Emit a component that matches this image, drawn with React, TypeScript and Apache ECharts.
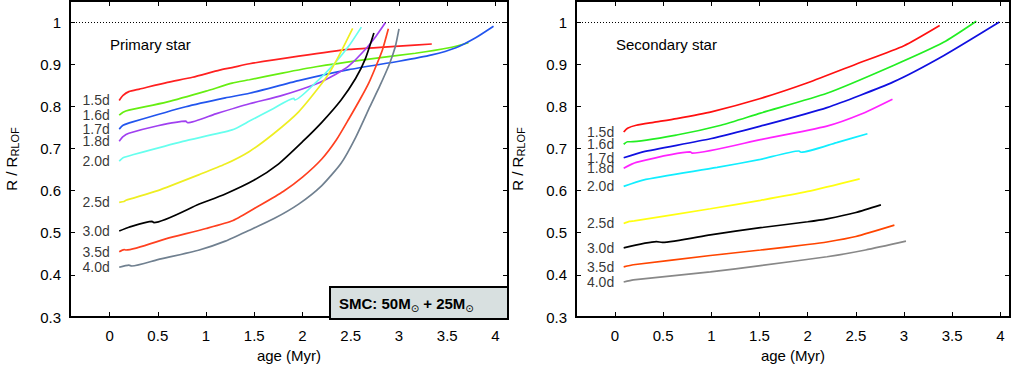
import React, { useEffect, useRef } from "react";
import * as echarts from "echarts";

// ---------- data ----------
const periods = ["1.5d", "1.6d", "1.7d", "1.8d", "2.0d", "2.5d", "3.0d", "3.5d", "4.0d"];

const xTicks = [0, 0.5, 1, 1.5, 2, 2.5, 3, 3.5, 4];
const yTicks = [0.3, 0.4, 0.5, 0.6, 0.7, 0.8, 0.9, 1];

const primaryColors = ["#ff2020", "#66ee11", "#2255ee", "#a040f0", "#66ffee", "#eeee22", "#000000", "#ff4020", "#708090"];
const secondaryColors = ["#ff1010", "#22ee22", "#1010e0", "#ff22ff", "#11eeff", "#ffff11", "#000000", "#ff4500", "#888888"];

// Primary star: [age (Myr), R/R_RLOF]
const p15 = [[0.10, 0.814], [0.14, 0.826], [0.2, 0.835], [0.31, 0.841], [0.6, 0.857], [0.86, 0.869], [1.14, 0.886], [1.27, 0.892], [1.45, 0.901], [1.96, 0.919], [2.48, 0.935], [3.0, 0.943], [3.34, 0.948]];
const p16 = [[0.10, 0.779], [0.14, 0.786], [0.2, 0.791], [0.59, 0.81], [1.0, 0.836], [1.27, 0.855], [1.45, 0.863], [1.79, 0.879], [2.14, 0.894], [2.65, 0.911], [3.17, 0.926], [3.52, 0.939], [3.72, 0.951]];
const p17 = [[0.10, 0.746], [0.14, 0.755], [0.24, 0.763], [0.79, 0.799], [1.2, 0.82], [1.45, 0.831], [1.96, 0.861], [2.48, 0.887], [3.0, 0.907], [3.34, 0.922], [3.59, 0.939], [3.79, 0.962], [3.98, 0.99]];
const p18 = [[0.10, 0.717], [0.14, 0.728], [0.2, 0.736], [0.5, 0.754], [0.79, 0.765], [0.81, 0.761], [1.1, 0.782], [1.45, 0.806], [1.79, 0.826], [2.14, 0.853], [2.35, 0.877], [2.48, 0.896], [2.65, 0.935], [2.76, 0.966], [2.86, 0.999]];
const p20 = [[0.10, 0.670], [0.14, 0.678], [0.24, 0.685], [0.76, 0.717], [1.27, 0.744], [1.45, 0.765], [1.7, 0.795], [1.91, 0.819], [1.92, 0.815], [2.14, 0.857], [2.31, 0.896], [2.48, 0.943], [2.61, 0.988]];
const p25 = [[0.10, 0.572], [0.15, 0.574], [0.17, 0.577], [0.5, 0.6], [0.93, 0.638], [1.2, 0.663], [1.45, 0.693], [1.7, 0.735], [1.96, 0.787], [2.21, 0.857], [2.3, 0.888], [2.4, 0.93], [2.52, 0.985]];
const p30 = [[0.10, 0.504], [0.2, 0.513], [0.44, 0.527], [0.46, 0.524], [0.93, 0.568], [1.2, 0.592], [1.5, 0.625], [1.75, 0.663], [2.0, 0.716], [2.2, 0.762], [2.4, 0.815], [2.55, 0.866], [2.65, 0.912], [2.74, 0.974]];
const p35 = [[0.10, 0.455], [0.15, 0.46], [0.17, 0.459], [0.59, 0.486], [1.0, 0.51], [1.28, 0.529], [1.55, 0.564], [1.8, 0.598], [2.0, 0.632], [2.2, 0.675], [2.35, 0.72], [2.48, 0.77], [2.6, 0.818], [2.69, 0.857], [2.77, 0.9], [2.83, 0.935], [2.89, 0.984]];
const p40 = [[0.10, 0.418], [0.2, 0.423], [0.23, 0.421], [0.5, 0.436], [0.93, 0.459], [1.2, 0.48], [1.45, 0.506], [1.7, 0.533], [1.96, 0.568], [2.2, 0.612], [2.4, 0.665], [2.55, 0.726], [2.7, 0.8], [2.8, 0.848], [2.9, 0.9], [2.96, 0.94], [3.0, 0.984]];

// Secondary star
const s15 = [[0.09, 0.739], [0.13, 0.748], [0.22, 0.755], [0.4, 0.762], [0.64, 0.771], [1.0, 0.787], [1.5, 0.818], [2.0, 0.856], [2.5, 0.9], [3.0, 0.944], [3.37, 0.992]];
const s16 = [[0.09, 0.71], [0.13, 0.716], [0.16, 0.716], [0.64, 0.732], [1.1, 0.755], [1.51, 0.784], [2.2, 0.831], [2.89, 0.897], [3.41, 0.952], [3.75, 1.002]];
const s17 = [[0.09, 0.678], [0.29, 0.692], [0.99, 0.723], [1.51, 0.753], [2.2, 0.797], [2.89, 0.858], [3.41, 0.92], [3.99, 1.0]];
const s18 = [[0.09, 0.653], [0.22, 0.667], [0.78, 0.692], [0.8, 0.689], [1.51, 0.721], [2.2, 0.753], [2.55, 0.781], [2.88, 0.817]];
const s20 = [[0.09, 0.61], [0.29, 0.625], [1.06, 0.655], [1.51, 0.674], [1.91, 0.694], [1.93, 0.691], [2.3, 0.714], [2.62, 0.735]];
const s25 = [[0.09, 0.522], [0.15, 0.527], [0.2, 0.528], [0.99, 0.557], [1.51, 0.577], [2.0, 0.598], [2.54, 0.628]];
const s30 = [[0.09, 0.464], [0.43, 0.479], [0.49, 0.477], [0.99, 0.495], [1.51, 0.512], [2.0, 0.526], [2.2, 0.533], [2.5, 0.548], [2.76, 0.566]];
const s35 = [[0.09, 0.419], [0.19, 0.424], [0.99, 0.446], [1.51, 0.459], [2.0, 0.472], [2.2, 0.478], [2.5, 0.491], [2.9, 0.518]];
const s40 = [[0.09, 0.383], [0.19, 0.388], [0.99, 0.407], [1.51, 0.422], [2.2, 0.443], [2.6, 0.459], [3.02, 0.48]];

const primaryData = [p15, p16, p17, p18, p20, p25, p30, p35, p40];
const secondaryData = [s15, s16, s17, s18, s20, s25, s30, s35, s40];

const FONT = "'Liberation Sans', Arial, Helvetica, sans-serif";

function buildPanel(
  data: number[][][],
  colors: string[],
  xIdx: number,
  yIdx: number
) {
  const series: any[] = data.map((pts, i) => {
    const s: any = {
      type: "line",
      xAxisIndex: xIdx,
      yAxisIndex: yIdx,
      data: pts,
      showSymbol: false,
      symbol: "none",
      smooth: 0.2,
      lineStyle: { color: colors[i], width: 1.7 },
      itemStyle: { color: colors[i] },
      silent: true,
      z: 3,
    };
    if (i === 0) {
      s.markLine = {
        silent: true,
        symbol: ["none", "none"],
        label: { show: false },
        lineStyle: { type: [1, 2], color: "#000", width: 1 },
        data: [{ yAxis: 1 }],
      };
    }
    return s;
  });
  series.push({
    type: "scatter",
    xAxisIndex: xIdx,
    yAxisIndex: yIdx,
    symbolSize: 1,
    itemStyle: { color: "rgba(0,0,0,0)" },
    silent: true,
    data: data.map((pts, i) => ({ name: periods[i], value: pts[0] })),
    label: {
      show: true,
      position: "left",
      distance: 9,
      formatter: "{b}",
      fontFamily: FONT,
      fontSize: 14,
      lineHeight: 11,
      color: "#000",
    },
  });
  return series;
}

function xAxisPair(grid: number, min: number, max: number) {
  const base = {
    type: "value",
    gridIndex: grid,
    min,
    max,
    splitLine: { show: false },
    axisLine: { show: false, onZero: false },
    axisTick: {
      show: true,
      inside: true,
      length: 5,
      customValues: xTicks,
      lineStyle: { color: "#000", width: 1 },
    },
  };
  return [
    {
      ...base,
      position: "bottom",
      name: "age (Myr)",
      nameLocation: "middle",
      nameGap: 31,
      nameTextStyle: { fontFamily: FONT, fontSize: 15, color: "#000" },
      axisLabel: {
        show: true,
        customValues: xTicks,
        margin: 11,
        fontFamily: FONT,
        fontSize: 15,
        color: "#000",
      },
    },
    { ...base, position: "top", axisLabel: { show: false } },
  ];
}

function yAxisPair(grid: number) {
  const base = {
    type: "value",
    gridIndex: grid,
    min: 0.3,
    max: 1.05,
    splitLine: { show: false },
    axisLine: { show: false, onZero: false },
    axisTick: {
      show: true,
      inside: true,
      length: 5,
      customValues: yTicks,
      lineStyle: { color: "#000", width: 1 },
    },
  };
  return [
    {
      ...base,
      position: "left",
      name: "R / R{s|RLOF}",
      nameLocation: "middle",
      nameRotate: 90,
      nameGap: 50,
      nameTextStyle: {
        fontFamily: FONT,
        fontSize: 15,
        color: "#000",
        lineHeight: 18,
        rich: {
          s: {
            fontFamily: FONT,
            fontSize: 11,
            lineHeight: 11,
            verticalAlign: "bottom",
            color: "#000",
          },
        },
      },
      axisLabel: {
        show: true,
        customValues: yTicks,
        margin: 9,
        fontFamily: FONT,
        fontSize: 15,
        color: "#000",
        formatter: (v: number) => String(Math.round(v * 10) / 10),
      },
    },
    { ...base, position: "right", axisLabel: { show: false } },
  ];
}

export default function App() {
  const ref = useRef<HTMLDivElement>(null);

  useEffect(() => {
    if (!ref.current) return;
    const chart = echarts.init(ref.current, undefined, { renderer: "svg" });
    const option: any = {
      animation: false,
      backgroundColor: "#fff",
      grid: [
        { left: 70, top: 1, width: 438, height: 318, show: true, borderColor: "#000", borderWidth: 2, backgroundColor: "transparent", containLabel: false },
        { left: 576, top: 1, width: 434, height: 318, show: true, borderColor: "#000", borderWidth: 2, backgroundColor: "transparent", containLabel: false },
      ],
      xAxis: [...xAxisPair(0, -0.41, 4.13), ...xAxisPair(1, -0.405, 4.1)],
      yAxis: [...yAxisPair(0), ...yAxisPair(1)],
      series: [
        ...buildPanel(primaryData, primaryColors, 0, 0),
        ...buildPanel(secondaryData, secondaryColors, 2, 2),
      ],
      graphic: [
        {
          type: "text",
          x: 110,
          y: 44,
          z: 10,
          style: { text: "Primary star", fontFamily: FONT, fontSize: 15, fill: "#000", verticalAlign: "middle" },
        },
        {
          type: "text",
          x: 616,
          y: 44,
          z: 10,
          style: { text: "Secondary star", fontFamily: FONT, fontSize: 15, fill: "#000", verticalAlign: "middle" },
        },
        {
          type: "rect",
          z: 10,
          shape: { x: 330, y: 287, width: 178, height: 32 },
          style: { fill: "#d8e0e0", stroke: "#000", lineWidth: 2 },
        },
        {
          type: "text",
          x: 339,
          y: 303,
          z: 11,
          style: {
            text: "{b|SMC: 50M}{s|⊙}{b| + 25M}{s|⊙}",
            verticalAlign: "middle",
            rich: {
              b: { fontFamily: FONT, fontSize: 15, fontWeight: "bold", lineHeight: 20, fill: "#000", verticalAlign: "middle" },
              s: { fontFamily: "'DejaVu Sans', sans-serif", fontSize: 10, lineHeight: 12, fill: "#000", verticalAlign: "bottom" },
            },
          },
        },
      ],
    };
    chart.setOption(option);
    return () => chart.dispose();
  }, []);

  return (
    <div
      ref={ref}
      style={{ position: "absolute", left: 0, top: 0, width: 1011, height: 368 }}
    />
  );
}
